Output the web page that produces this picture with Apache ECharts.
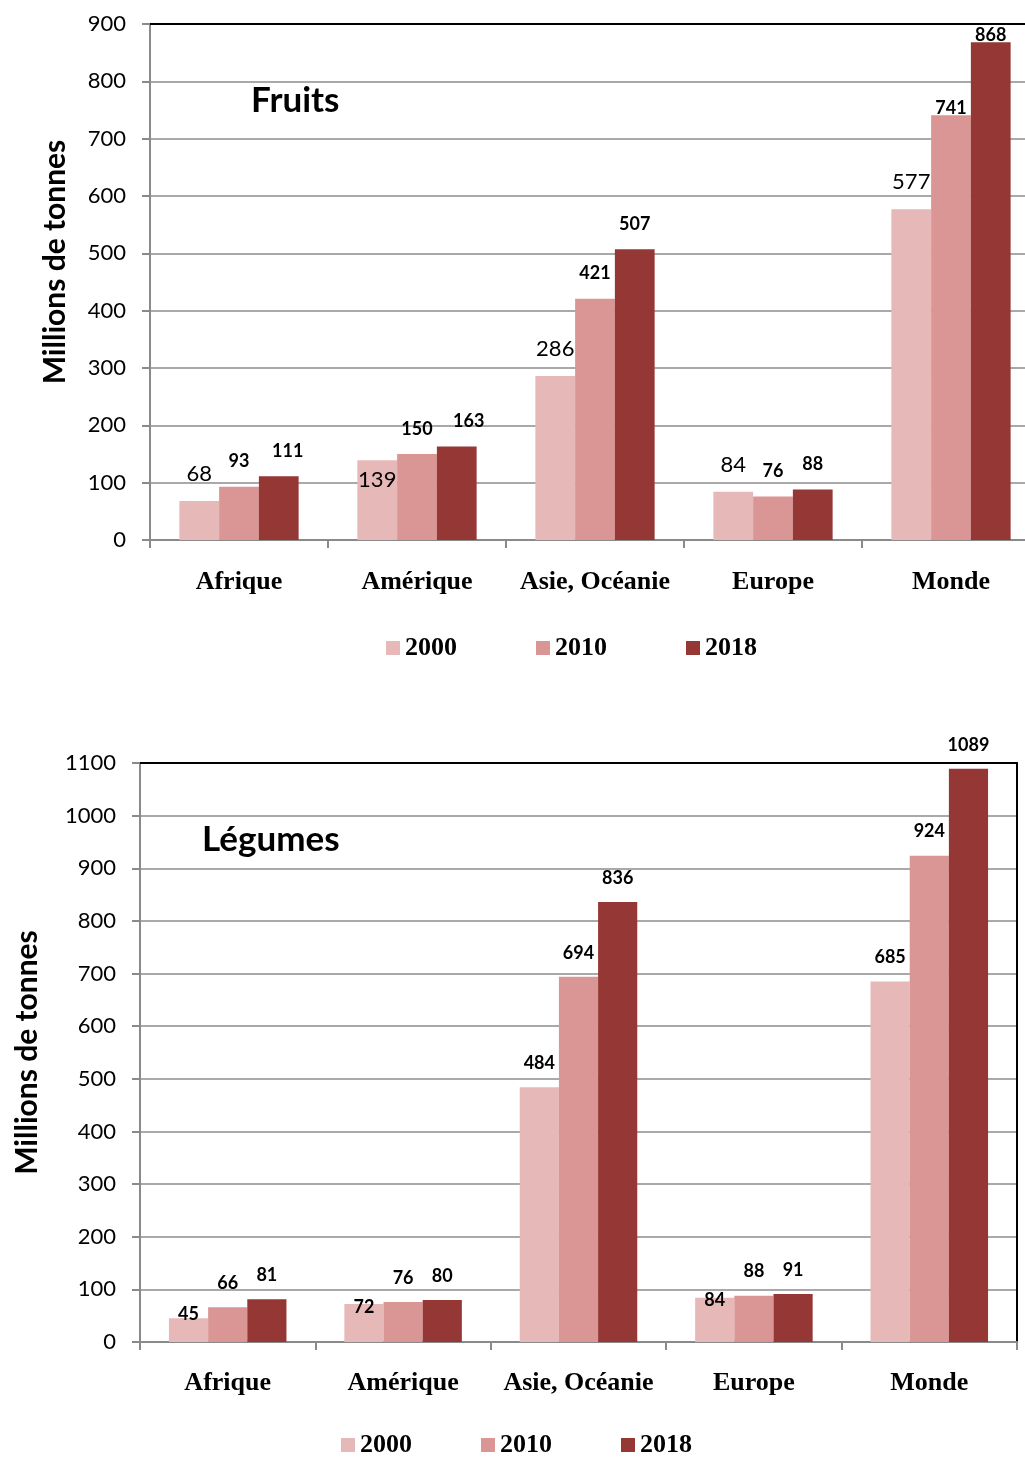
<!DOCTYPE html>
<html>
<head>
<meta charset="utf-8">
<script src="https://cdn.jsdelivr.net/npm/echarts@6/dist/echarts.min.js"></script>
<style>
  html, body { margin: 0; padding: 0; background: #ffffff; overflow: hidden; width: 1025px; height: 1457px; }
  #chart { width: 1045px; height: 1457px; }
</style>
</head>
<body>
<div id="chart"></div>
<script>
// Production by region (millions of tonnes)
const categories = ['Afrique', 'Amérique', 'Asie, Océanie', 'Europe', 'Monde'];
const years = ['2000', '2010', '2018'];

const fruits2000 = [68, 139, 286, 84, 577];
const fruits2010 = [93, 150, 421, 76, 741];
const fruits2018 = [111, 163, 507, 88, 868];

const legumes2000 = [45, 72, 484, 84, 685];
const legumes2010 = [66, 76, 694, 88, 924];
const legumes2018 = [81, 80, 836, 91, 1089];

const fruitsTicks = { min: 0, max: 900, interval: 100 };
const legumesTicks = { min: 0, max: 1100, interval: 100 };

const colors = { '2000': '#E6B9B8', '2010': '#D99694', '2018': '#953735' };

const numFont = 'Lato, "Open Sans", sans-serif';
const serifFont = '"Liberation Serif", "Times New Roman", serif';
const axisGray = '#8a8a8a';

// Per-label nudges (style only): [seriesKey][categoryIndex] = [dx, dy]
const labelNudge = {
  f2000: { 1: [0, 47] },
  f2010: { 4: [0, 18] },
  f2018: { 0: [9, 0], 1: [12, 0], 4: [0, 18] },
  l2000: { 0: [0, 20], 1: [0, 27], 3: [0, 26] },
  l2010: {},
  l2018: {}
};

function buildData(values, key) {
  return values.map((v, i) => {
    const n = labelNudge[key][i];
    return n ? { value: v, label: { offset: n } } : v;
  });
}

function barSeries(name, values, key, gridIdx, labelStyle, gap) {
  return {
    type: 'bar',
    name: name,
    xAxisIndex: gridIdx * 2,
    yAxisIndex: gridIdx * 2,
    data: buildData(values, key),
    barGap: '0%',
    barCategoryGap: gap,
    itemStyle: { color: colors[name] },
    label: Object.assign({ show: true, position: 'top', color: '#000', fontFamily: numFont }, labelStyle),
    emphasis: { disabled: true },
    animation: false
  };
}

const boldLabel = { fontSize: 18, fontWeight: 'bold', distance: 16 };
const plainLabel = { fontSize: 22, fontWeight: 'normal', distance: 16 };
const boldLabel2 = { fontSize: 18, fontWeight: 'bold', distance: 15 };

function catAxis(gridIdx, margin) {
  return {
    type: 'category', gridIndex: gridIdx, data: categories, position: 'bottom',
    axisLine: { show: true, lineStyle: { color: axisGray, width: 2 } },
    axisTick: { show: true, interval: 0, length: 8, lineStyle: { color: axisGray, width: 2 } },
    axisLabel: { interval: 0, fontFamily: serifFont, fontSize: 26, fontWeight: 'bold', color: '#000', margin: margin },
    splitLine: { show: false }
  };
}
function topBorderAxis(gridIdx) {
  return {
    type: 'category', gridIndex: gridIdx, data: categories, position: 'top',
    axisLine: { show: true, onZero: false, lineStyle: { color: '#000', width: 2 } },
    axisTick: { show: false }, axisLabel: { show: false }
  };
}
function valAxis(gridIdx, ticks, nameGap, namePadding) {
  return {
    type: 'value', gridIndex: gridIdx, min: ticks.min, max: ticks.max, interval: ticks.interval,
    name: 'Millions de tonnes', nameLocation: 'middle', nameGap: nameGap,
    nameTextStyle: { fontFamily: numFont, fontSize: 30, fontWeight: 'bold', color: '#000', padding: namePadding },
    axisLine: { show: true, lineStyle: { color: axisGray, width: 2 } },
    axisTick: { show: true, length: 8, lineStyle: { color: axisGray, width: 2 } },
    axisLabel: { fontFamily: numFont, fontSize: 22, color: '#000', margin: 24, formatter: (v) => String(v) },
    splitLine: { show: true, lineStyle: { color: '#8c8c8c', width: 1.5 } }
  };
}
function rightBorderAxis(gridIdx, ticks, showLine) {
  return {
    type: 'value', gridIndex: gridIdx, min: ticks.min, max: ticks.max, interval: ticks.interval,
    position: 'right',
    axisLine: { show: showLine, lineStyle: { color: '#000', width: 2 } },
    axisTick: { show: false }, axisLabel: { show: false }, splitLine: { show: false }
  };
}

const legendText = { fontFamily: serifFont, fontSize: 26, fontWeight: 'bold', color: '#000' };

const option = {
  backgroundColor: '#ffffff',
  animation: false,
  title: [
    { text: 'Fruits', left: 246, top: 78, textStyle: { fontFamily: numFont, fontSize: 35, fontWeight: 'bold', color: '#000' } },
    { text: 'Légumes', left: 197, top: 817, textStyle: { fontFamily: numFont, fontSize: 35, fontWeight: 'bold', color: '#000' } }
  ],
  legend: [
    { data: years, left: 381, top: 630, itemWidth: 14, itemHeight: 14, itemGap: 79, icon: 'rect', textStyle: legendText, selectedMode: false },
    { data: years, left: 336, top: 1427, itemWidth: 14, itemHeight: 14, itemGap: 69, icon: 'rect', textStyle: legendText, selectedMode: false }
  ],
  grid: [
    { left: 150, width: 890, top: 24, height: 516 },
    { left: 140, width: 877, top: 763, height: 579 }
  ],
  xAxis: [catAxis(0, 29), topBorderAxis(0), catAxis(1, 28), topBorderAxis(1)],
  yAxis: [
    valAxis(0, fruitsTicks, 80, [0, 0, 0, 40]),
    rightBorderAxis(0, fruitsTicks, false),
    valAxis(1, legumesTicks, 98, 0),
    rightBorderAxis(1, legumesTicks, true)
  ],
  series: [
    barSeries('2000', fruits2000, 'f2000', 0, plainLabel, '33%'),
    barSeries('2010', fruits2010, 'f2010', 0, boldLabel, '33%'),
    barSeries('2018', fruits2018, 'f2018', 0, boldLabel, '33%'),
    barSeries('2000', legumes2000, 'l2000', 1, boldLabel2, '33%'),
    barSeries('2010', legumes2010, 'l2010', 1, boldLabel2, '33%'),
    barSeries('2018', legumes2018, 'l2018', 1, boldLabel2, '33%')
  ]
};

const chart = echarts.init(document.getElementById('chart'), null, { renderer: 'canvas' });
chart.setOption(option);
</script>
</body>
</html>
